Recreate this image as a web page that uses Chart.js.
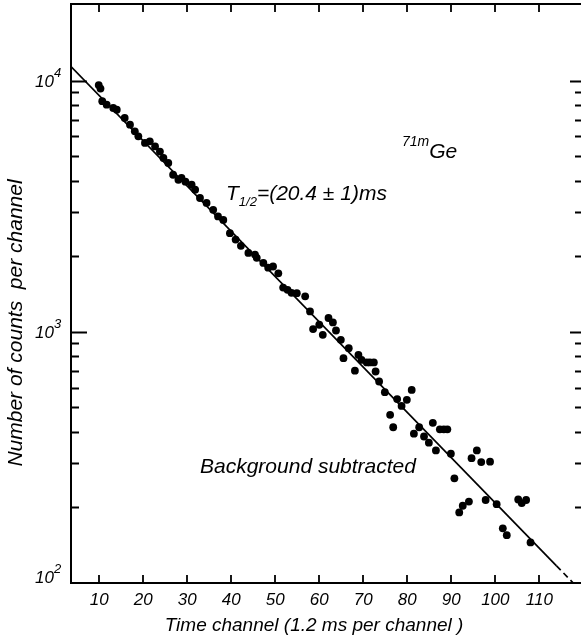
<!DOCTYPE html>
<html>
<head>
<meta charset="utf-8">
<title>71mGe decay curve</title>
<script src="https://cdn.jsdelivr.net/npm/chart.js@4.4.1/dist/chart.umd.min.js"></script>
<style>
  html, body { margin: 0; padding: 0; background: #fff; }
  #wrap { position: relative; width: 581px; height: 639px; }
</style>
</head>
<body>
<div id="wrap"><canvas id="decayChart"></canvas></div>
<script>
const CHANNELS = [
    9.9, 10.3, 10.7, 11.7, 13.2, 14.0, 15.8, 17.0, 18.1, 18.9,
    20.4, 21.5, 22.7, 23.8, 24.6, 25.7, 26.8, 28.0, 28.7, 29.6,
    31.0, 31.8, 32.9, 34.4, 35.9, 37.0, 38.2, 39.7, 41.0, 42.2,
    43.9, 45.4, 45.8, 47.3, 48.4, 49.5, 50.7, 51.8, 52.8, 53.7,
    54.9, 56.8, 57.9, 58.6, 60.0, 60.8, 62.1, 63.1, 63.8, 64.9,
    65.5, 66.7, 68.1, 68.9, 69.6, 70.8, 71.5, 72.4, 72.8, 73.6,
    74.9, 76.1, 76.8, 77.7, 78.7, 79.9, 81.0, 81.5, 82.7, 83.8,
    84.9, 85.8, 86.5, 87.4, 88.3, 89.1, 89.9, 90.7, 91.8, 92.6,
    94.0, 94.6, 95.8, 96.8, 97.8, 98.8, 100.3, 101.7, 102.6, 105.2,
    106.0, 107.0, 108.0
];
const COUNTS = [
    9600, 9300, 8280, 8020, 7780, 7660, 7100, 6680, 6280, 6000,
    5650, 5730, 5470, 5220, 4920, 4700, 4220, 4030, 4100, 3960,
    3850, 3680, 3410, 3260, 3060, 2880, 2790, 2470, 2330, 2200,
    2060, 2030, 1970, 1880, 1800, 1820, 1710, 1500, 1470, 1430,
    1425, 1385, 1205, 1025, 1067, 973, 1135, 1090, 1012, 929,
    785, 861, 700, 809, 773, 755, 755, 755, 695, 634,
    575, 467, 417, 540, 507, 536, 587, 393, 417, 383,
    362, 434, 337, 409, 409, 409, 327, 261, 191, 203,
    211, 314, 337, 303, 214, 304, 206, 165, 155, 215,
    208, 214, 145
];

// Fitted decay, T1/2 = 20.4 ms; last piece is dashed
const FIT_CHANNELS = [3.6, 113.9, 117.7];
const FIT_COUNTS   = [11370, 117, 100];

const X_TICKS   = [10, 20, 30, 40, 50, 60, 70, 80, 90, 100, 110];
const Y_DECADES = [100, 1000, 10000];
const Y_MINOR   = [200, 300, 400, 500, 600, 700, 800, 900,
                   2000, 3000, 4000, 5000, 6000, 7000, 8000, 9000];

const FONT = "'Liberation Sans', Arial, sans-serif";

// italic text with a small raised / lowered part, returns end x
function drawRun(ctx, parts, x, y) {
    parts.forEach(function (p) {
        ctx.font = "italic " + p.size + "px " + FONT;
        ctx.fillText(p.text, x, y + (p.dy || 0));
        x += ctx.measureText(p.text).width;
    });
    return x;
}

const paperAxes = {
    id: "paperAxes",
    afterDraw: function (chart) {
        const ctx = chart.ctx, a = chart.chartArea;
        const xs = chart.scales.x, ys = chart.scales.y;
        ctx.save();
        ctx.strokeStyle = "#000";
        ctx.fillStyle = "#000";

        // frame: left, bottom and top only
        ctx.lineWidth = 2;
        ctx.beginPath();
        ctx.moveTo(a.left, a.top - 2);  ctx.lineTo(a.left, a.bottom + 1);
        ctx.moveTo(a.left - 1, a.bottom); ctx.lineTo(a.right + 6, a.bottom);
        ctx.moveTo(a.left - 1, a.top - 1); ctx.lineTo(a.right + 6, a.top - 1);
        ctx.stroke();

        // x ticks, inward on top and bottom
        ctx.lineWidth = 1.8;
        ctx.beginPath();
        X_TICKS.forEach(function (v) {
            const px = Math.round(xs.getPixelForValue(v));
            ctx.moveTo(px, a.bottom); ctx.lineTo(px, a.bottom - 8);
            ctx.moveTo(px, a.top - 1); ctx.lineTo(px, a.top + 7);
        });
        // y ticks, left side inward, right side short dashes
        Y_MINOR.forEach(function (v) {
            const py = Math.round(ys.getPixelForValue(v)) + 0.5;
            ctx.moveTo(a.left, py); ctx.lineTo(a.left + 8, py);
            ctx.moveTo(a.right, py); ctx.lineTo(a.right + 6, py);
        });
        Y_DECADES.forEach(function (v) {
            const py = Math.round(ys.getPixelForValue(v)) + 0.5;
            if (v === 100) return;
            ctx.moveTo(a.left, py); ctx.lineTo(a.left + 16, py);
            ctx.moveTo(a.right - 5, py); ctx.lineTo(a.right + 6, py);
        });
        ctx.stroke();

        // y labels 10^n
        ctx.textAlign = "left";
        ctx.textBaseline = "alphabetic";
        Y_DECADES.forEach(function (v) {
            let py = ys.getPixelForValue(v);
            py = Math.min(py, a.bottom - 6);
            const exp = String(Math.round(Math.log10(v)));
            drawRun(ctx, [
                { text: "10", size: 17, dy: 6 },
                { text: exp, size: 13, dy: -4 }
            ], 35, py);
        });

        // axis titles
        ctx.font = "italic 19px " + FONT;
        ctx.textAlign = "center";
        ctx.fillText("Time channel (1.2 ms per channel )", 314, 631);

        ctx.save();
        ctx.translate(22, 323);
        ctx.rotate(-Math.PI / 2);
        ctx.font = "italic 21px " + FONT;
        ctx.fillText("Number of counts  per channel", 0, 0);
        ctx.restore();

        // annotations
        ctx.textAlign = "left";
        drawRun(ctx, [
            { text: "T", size: 21 },
            { text: "1/2", size: 13, dy: 6 },
            { text: "=(20.4 \u00b1 1)ms", size: 21 }
        ], 226, 200);

        drawRun(ctx, [
            { text: "71m", size: 14, dy: -12 },
            { text: "Ge", size: 21 }
        ], 402, 158);

        ctx.font = "italic 21px " + FONT;
        ctx.fillText("Background subtracted", 200, 473);

        ctx.restore();
    }
};

const points = CHANNELS.map(function (c, i) { return { x: c, y: COUNTS[i] }; });
const fit    = FIT_CHANNELS.map(function (c, i) { return { x: c, y: FIT_COUNTS[i] }; });

new Chart(document.getElementById("decayChart"), {
    type: "scatter",
    data: {
        datasets: [
            {
                label: "counts",
                data: points,
                pointRadius: 3.9,
                pointBackgroundColor: "#000",
                pointBorderWidth: 0
            },
            {
                label: "fit",
                data: fit,
                showLine: true,
                borderColor: "#000",
                borderWidth: 1.7,
                pointRadius: 0,
                segment: {
                    borderDash: function (c) { return c.p0DataIndex === 1 ? [6, 4] : undefined; }
                }
            }
        ]
    },
    options: {
        responsive: true,
        maintainAspectRatio: false,
        animation: false,
        layout: { padding: { top: 5, right: 6, left: 0, bottom: 0 } },
        plugins: {
            legend: { display: false },
            tooltip: { enabled: false }
        },
        scales: {
            x: {
                type: "linear",
                min: 3.6,
                max: 118.1,
                grid: { display: false, drawTicks: false },
                border: { display: false },
                afterBuildTicks: function (s) { s.ticks = X_TICKS.map(function (v) { return { value: v }; }); },
                afterFit: function (s) { s.height = 56; },
                ticks: {
                    autoSkip: false,
                    maxRotation: 0,
                    padding: 7,
                    color: "#000",
                    font: { family: FONT, size: 17, style: "italic" }
                }
            },
            y: {
                type: "logarithmic",
                min: 100,
                max: 20000,
                grid: { display: false, drawTicks: false },
                border: { display: false },
                afterBuildTicks: function (s) { s.ticks = Y_DECADES.map(function (v) { return { value: v }; }); },
                afterFit: function (s) { s.width = 71; },
                ticks: { display: false }
            }
        }
    },
    plugins: [paperAxes]
});
</script>
</body>
</html>
